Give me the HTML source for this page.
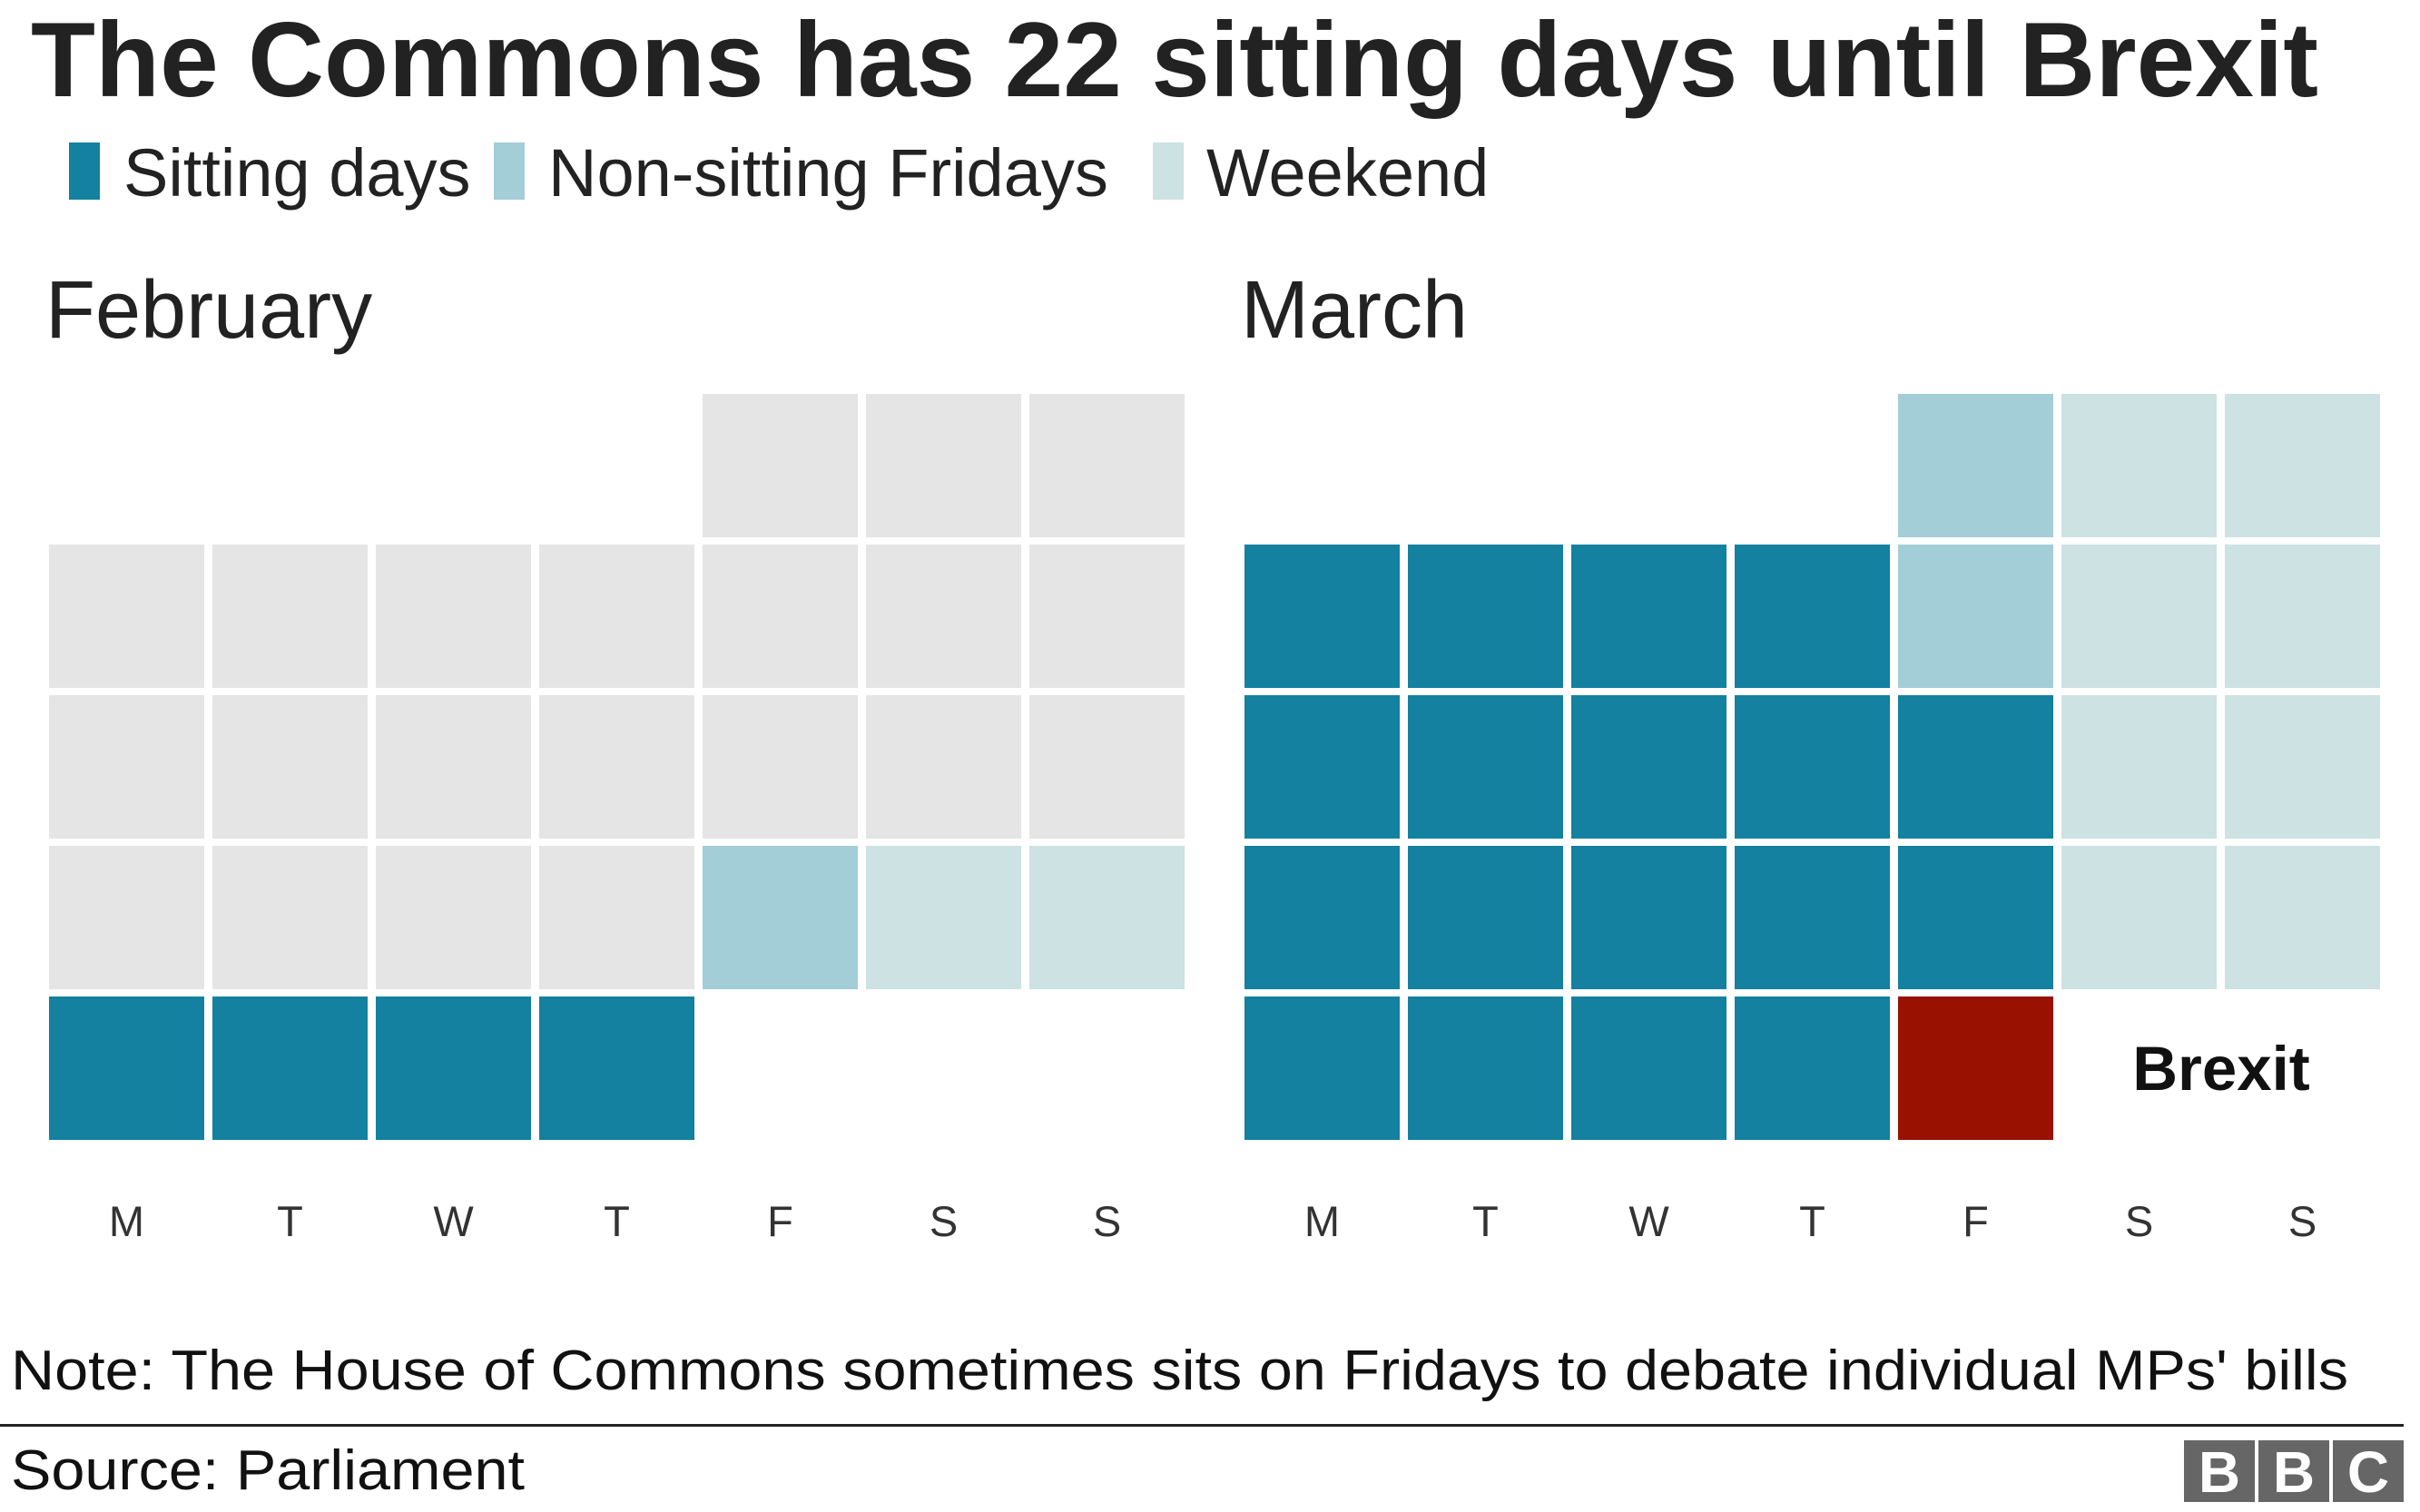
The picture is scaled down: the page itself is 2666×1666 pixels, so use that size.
<!DOCTYPE html>
<html><head><meta charset="utf-8"><style>
html,body{margin:0;padding:0;background:#fff;}
svg{display:block;font-family:"Liberation Sans",Arial,sans-serif;}
</style></head><body>
<svg id="chart" width="2666" height="1666" viewBox="0 0 2666 1666" xmlns="http://www.w3.org/2000/svg">
<text x="34" y="106" font-size="117" font-weight="bold" fill="#222" textLength="2520" lengthAdjust="spacingAndGlyphs">The Commons has 22 sitting days until Brexit</text>
<g>
<rect x="76" y="157" width="34" height="63" fill="#13819f"/>
<text x="136" y="216" font-size="74" fill="#222">Sitting days</text>
<rect x="544" y="157" width="34" height="63" fill="#a3cdd7"/>
<text x="604" y="216" font-size="74" fill="#222">Non-sitting Fridays</text>
<rect x="1270" y="157" width="34" height="63" fill="#cde2e2"/>
<text x="1329" y="216" font-size="74" fill="#222">Weekend</text>
</g>
<text x="50" y="372" font-size="90" fill="#222">February</text>
<text x="1367" y="372" font-size="90" fill="#222">March</text>
<g id="grids"></g>
<text x="2447" y="1201" font-size="69" font-weight="bold" fill="#111" text-anchor="middle">Brexit</text>
<text x="12" y="1531" font-size="62" fill="#111" textLength="2575" lengthAdjust="spacingAndGlyphs">Note: The House of Commons sometimes sits on Fridays to debate individual MPs' bills</text>
<rect x="0" y="1569" width="2648" height="3" fill="#222"/>
<text x="12" y="1641" font-size="62" fill="#111" textLength="566" lengthAdjust="spacingAndGlyphs">Source: Parliament</text>
<g>
<rect x="2406" y="1587" width="78" height="68" fill="#666"/>
<rect x="2488" y="1587" width="78" height="68" fill="#666"/>
<rect x="2570" y="1587" width="78" height="68" fill="#666"/>
<text x="2445" y="1644" font-size="64" font-weight="bold" fill="#fff" text-anchor="middle">B</text>
<text x="2527" y="1644" font-size="64" font-weight="bold" fill="#fff" text-anchor="middle">B</text>
<text x="2609" y="1644" font-size="64" font-weight="bold" fill="#fff" text-anchor="middle">C</text>
</g>
</svg>
<script>
// cell types: "" empty, "g" past (grey), "s" sitting, "n" non-sitting Friday, "w" weekend, "b" Brexit
const dayLabels = ["M","T","W","T","F","S","S"];
const febRows = [
  ["","","","","g","g","g"],
  ["g","g","g","g","g","g","g"],
  ["g","g","g","g","g","g","g"],
  ["g","g","g","g","n","w","w"],
  ["s","s","s","s","","",""]
];
const marRows = [
  ["","","","","n","w","w"],
  ["s","s","s","s","n","w","w"],
  ["s","s","s","s","s","w","w"],
  ["s","s","s","s","s","w","w"],
  ["s","s","s","s","b","",""]
];
const colors = {g:"#e5e5e5", s:"#13819f", n:"#a3cdd7", w:"#cde2e2", b:"#991100"};
const names = {g:"past-day", s:"sitting-day", n:"non-sitting-friday", w:"weekend-day", b:"brexit-day"};
const NS = "http://www.w3.org/2000/svg";
const grids = document.getElementById("grids");
function xPos(left, col){ return left + col*180; }
function yPos(row){ return 434 + row*166; }
function drawMonth(rows, left, month){
  const g = document.createElementNS(NS,"g");
  
  
  rows.forEach((row, r) => row.forEach((t, c) => {
    if (!t) return;
    const rect = document.createElementNS(NS,"rect");
    rect.setAttribute("x", xPos(left, c));
    rect.setAttribute("y", yPos(r));
    rect.setAttribute("width", 171);
    rect.setAttribute("height", 158);
    rect.setAttribute("fill", colors[t]);
    
    
    g.appendChild(rect);
  }));
  dayLabels.forEach((d, c) => {
    const tx = document.createElementNS(NS,"text");
    tx.setAttribute("x", xPos(left, c) + 85.5);
    tx.setAttribute("y", 1362);
    tx.setAttribute("font-size", 47);
    tx.setAttribute("fill", "#333");
    tx.setAttribute("text-anchor", "middle");
    tx.textContent = d;
    
    
    g.appendChild(tx);
  });
  grids.appendChild(g);
}
drawMonth(febRows, 54, "february");
drawMonth(marRows, 1371, "march");
</script>
</body></html>
